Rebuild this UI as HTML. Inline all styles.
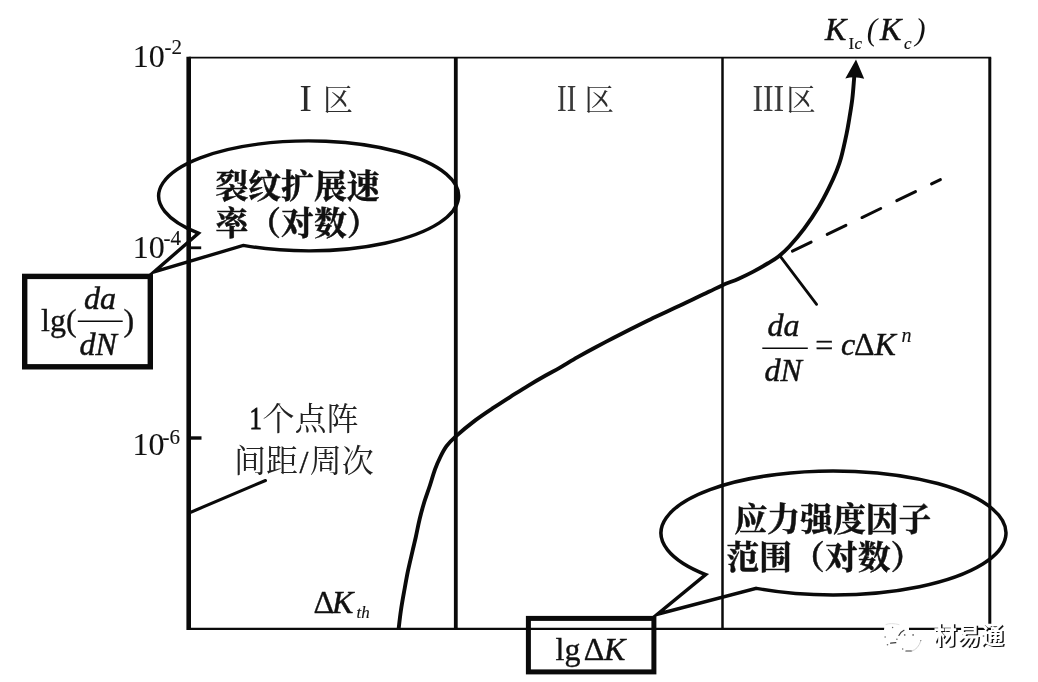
<!DOCTYPE html>
<html lang="zh-CN">
<head>
<meta charset="utf-8">
<title>da/dN - ΔK</title>
<style>
html,body{margin:0;padding:0;background:#fff}
body{width:1038px;height:682px;overflow:hidden;position:relative;font-family:"Liberation Serif",serif}
svg{position:absolute;left:0;top:0;display:block;filter:grayscale(1) blur(.35px)}
text{font-family:"Liberation Serif",serif;fill:#111;stroke:#111;stroke-width:.35px}
.it{font-style:italic}
.tk{stroke-width:.12px}
.it{stroke-width:.5px}
.pn{font-style:italic;stroke-width:0}
.sb{stroke-width:.15px}
.cj{font-family:"Liberation Serif","Noto Serif CJK SC",serif}
.cjb{font-family:"Liberation Serif","Noto Serif CJK SC",serif;font-weight:bold;stroke-width:.5px}
.hei{font-family:"Liberation Sans","Noto Sans CJK SC",sans-serif;font-weight:bold;stroke:none}
</style>
</head>
<body>
<svg width="1038" height="682" viewBox="0 0 1038 682">
<g stroke="#0a0a0a" fill="none" stroke-linecap="butt">
<line x1="188.7" y1="56.8" x2="188.7" y2="629.9" stroke-width="4.6"/>
<line x1="188.7" y1="57.7" x2="991.2" y2="57.7" stroke-width="1.8"/>
<line x1="188.7" y1="628.8" x2="991.0" y2="628.8" stroke-width="2.3"/>
<line x1="989.8" y1="57.7" x2="989.8" y2="623.8" stroke-width="3"/>
<line x1="455.8" y1="57.7" x2="455.8" y2="628.8" stroke-width="3.8"/>
<line x1="722.5" y1="57.7" x2="722.5" y2="628.8" stroke-width="2.5"/>
<line x1="190" y1="247.8" x2="201.2" y2="247.8" stroke-width="2.8"/>
<line x1="190" y1="438" x2="201.5" y2="438" stroke-width="3.4"/>
</g>
<path d="M398.6 629.0 C399.0 626.0 399.9 617.3 400.8 611.2 C401.7 605.1 402.8 598.8 404.0 592.2 C405.2 585.6 406.4 578.6 407.8 571.7 C409.2 564.9 411.2 556.8 412.5 551.1 C413.8 545.4 414.5 542.8 415.7 537.5 C416.9 532.2 418.2 525.0 419.6 519.2 C421.0 513.5 422.3 508.6 424.0 503.0 C425.7 497.4 428.1 491.1 429.9 485.5 C431.7 479.9 433.3 474.0 435.0 469.3 C436.7 464.6 438.2 461.4 440.1 457.5 C442.0 453.6 443.9 449.7 446.5 446.2 C449.1 442.7 451.0 440.7 455.8 436.4 C460.6 432.1 469.0 425.1 475.2 420.4 C481.4 415.7 486.9 412.1 492.8 408.2 C498.7 404.3 504.5 400.5 510.4 396.8 C516.3 393.1 522.1 389.4 528.0 385.8 C533.9 382.2 540.3 378.5 545.6 375.5 C550.9 372.5 554.7 370.7 560.0 367.6 C565.3 364.5 571.7 360.5 577.6 357.1 C583.5 353.7 589.3 350.5 595.2 347.4 C601.1 344.3 606.9 341.3 612.8 338.3 C618.7 335.3 624.5 332.3 630.4 329.3 C636.3 326.3 642.1 323.4 648.0 320.5 C653.9 317.6 660.3 314.7 665.6 312.2 C670.9 309.7 675.1 307.8 680.0 305.5 C684.9 303.2 689.8 300.7 694.7 298.4 C699.6 296.1 704.7 293.8 709.3 291.6 C713.9 289.4 717.6 287.4 722.5 285.2 C727.4 283.0 733.6 281.0 738.7 278.7 C743.8 276.4 748.4 274.2 753.3 271.6 C758.2 269.0 763.8 265.8 768.0 263.3 C772.2 260.8 775.0 259.3 778.5 256.5 C782.0 253.7 785.0 251.1 789.3 246.5 C793.5 241.9 799.1 235.5 804.0 228.9 C808.9 222.3 814.6 213.7 818.7 206.9 C822.9 200.1 826.0 193.8 828.9 187.9 C831.8 182.0 834.2 176.7 836.2 171.7 C838.2 166.7 839.3 164.2 841.0 158.0 C842.7 151.8 845.1 140.9 846.5 134.2 C847.9 127.5 848.4 123.9 849.4 118.0 C850.4 112.1 851.5 105.6 852.3 99.0 C853.1 92.4 853.7 83.3 854.1 78.5 C854.5 73.7 854.7 71.4 854.8 70.0" fill="none" stroke="#0a0a0a" stroke-width="3.9" stroke-linejoin="round"/>
<path d="M856 59.6 L845.3 78.6 Q854.5 75.8 864.2 78.8 Z" fill="#0a0a0a"/>
<line x1="792.4" y1="251.2" x2="940.4" y2="179.6" stroke="#0a0a0a" stroke-width="3" stroke-linecap="round" stroke-dasharray="20.8 17.85"/>
<line x1="780.3" y1="256.3" x2="816.6" y2="304.3" stroke="#0a0a0a" stroke-width="2.8" stroke-linecap="round"/>
<line x1="189" y1="513" x2="265.5" y2="480.5" stroke="#0a0a0a" stroke-width="3" stroke-linecap="round"/>
<path d="M198.4 233.2 A150.0 55.0 0 1 1 243.2 245.4 L154.0 272.0 Z" fill="none" stroke="#0a0a0a" stroke-width="3.4" stroke-linejoin="miter" stroke-miterlimit="8"/>
<path d="M705.7 574.6 A172.5 62.0 0 1 1 756.3 588.4 L657.4 614.2 Z" fill="none" stroke="#0a0a0a" stroke-width="3.5" stroke-linejoin="miter" stroke-miterlimit="8"/>
<rect x="24.7" y="276.4" width="125.6" height="90.4" fill="none" stroke="#0a0a0a" stroke-width="5.4"/>
<rect x="528.4" y="618.4" width="125.5" height="53.5" fill="none" stroke="#0a0a0a" stroke-width="5"/>
<text x="132.8" y="67.0" font-size="32.0" class="tk">10</text>
<text x="164.5" y="53.6" font-size="21.0" class="tk">-2</text>
<text x="132.8" y="258.0" font-size="32.0" class="tk">10</text>
<text x="163.5" y="244.6" font-size="21.0" class="tk">-4</text>
<text x="132.5" y="455.0" font-size="32.0" class="tk">10</text>
<text x="162.5" y="443.6" font-size="21.0" class="tk">-6</text>
<text x="825.0" y="40.0" font-size="32.0" class="it">K</text>
<text x="848.5" y="49.0" font-size="17.0" class="sb">I</text>
<text x="854.5" y="49.0" font-size="17.0" class="it sb">c</text>
<text x="866.8" y="39.5" font-size="31.0" class="pn">(</text>
<text x="880.0" y="40.0" font-size="32.0" class="it">K</text>
<text x="904.0" y="49.0" font-size="17.0" class="it sb">c</text>
<text x="915.2" y="39.5" font-size="31.0" class="pn">)</text>
<text x="313.5" y="613.3" font-size="32.0">Δ</text>
<text x="332.0" y="613.3" font-size="32.0" class="it">K</text>
<text x="356.5" y="617.5" font-size="17.0" class="it sb">th</text>
<text x="767.5" y="335.6" font-size="32.0" class="it">da</text>
<line x1="762.3" y1="348.3" x2="807.8" y2="348.3" stroke="#0a0a0a" stroke-width="1.5"/>
<text x="764.5" y="380.7" font-size="32.0" class="it">dN</text>
<text x="815.3" y="355.9" font-size="32.0">=</text>
<text x="841.0" y="355.3" font-size="32.0" class="it">c</text>
<text x="854.0" y="355.3" font-size="32.0">Δ</text>
<text x="874.5" y="355.3" font-size="32.0" class="it">K</text>
<text x="901.5" y="342.0" font-size="20.0" class="it sb">n</text>
<text x="41.0" y="330.6" font-size="32.0">lg(</text>
<text x="84.0" y="308.6" font-size="32.0" class="it">da</text>
<line x1="77.8" y1="321.3" x2="122.7" y2="321.3" stroke="#0a0a0a" stroke-width="1.5"/>
<text x="79.5" y="355.2" font-size="32.0" class="it">dN</text>
<text x="123.5" y="330.6" font-size="32.0">)</text>
<text x="555.5" y="659.6" font-size="32.0">lg</text>
<text x="583.7" y="659.6" font-size="32.0">Δ</text>
<text x="604.0" y="659.6" font-size="32.0" class="it">K</text>
<text x="299.5" y="110.6" font-size="37.0" style="fill:#2a2a2a;stroke:none">I</text>
<text transform="translate(557.1 110.6) scale(.78 1)" font-size="37" style="fill:#3a3a3a;stroke:none">II</text>
<text transform="translate(752.4 110.6) scale(.86 1)" font-size="37" style="fill:#3a3a3a;stroke:none">III</text>
<text transform="translate(249.6 429.4) scale(.78 1)" font-size="31.5" style="stroke-width:.9px">1</text>
<text x="299.5" y="472.5" font-size="32.0">/</text>
<text x="323" y="110" font-size="30" class="cj" style="fill:#2e2e2e;stroke:none">区</text>
<text x="584.5" y="110" font-size="29.5" class="cj" style="fill:#2e2e2e;stroke:none">区</text>
<text x="786.3" y="110" font-size="29.5" class="cj" style="fill:#2e2e2e;stroke:none">区</text>
<text x="215.5" y="198" font-size="32.8" class="cjb">裂纹扩展速</text>
<text x="215.5" y="234.5" font-size="32.8" class="cjb">率（对数）</text>
<text x="734.5" y="530.5" font-size="32.8" class="cjb">应力强度因子</text>
<text x="726.5" y="569" font-size="32.8" class="cjb">范围（对数）</text>
<text x="262.5" y="430" font-size="32" class="cj" style="fill:#222;stroke:none">个点阵</text>
<text x="234" y="472" font-size="32" class="cj" style="fill:#222;stroke:none">间距</text>
<text x="309.8" y="472" font-size="32" class="cj" style="fill:#222;stroke:none">周次</text>
<g role="img" aria-label="logo"><title>logo</title>
<rect x="884.2" y="626.6" width="24.8" height="4.6" fill="#fff"/>
<ellipse cx="894.5" cy="632.8" rx="11" ry="9.4" fill="#fff"/>
<ellipse cx="909" cy="641" rx="11.6" ry="10.4" fill="#fff"/>
<g fill="none" stroke="#3a3a3a" stroke-width="1.2" stroke-linecap="round">
<path d="M898.9 635.4Q900.6 631.9 904 630.3"/>
<path d="M890.6 643.1L895.8 642.7"/>
<path d="M905.9 651L911.6 651"/>
<path d="M911.8 651Q918 649.5 920.8 641" stroke="#d2d2d2" stroke-width="1"/>
<path d="M886 624.5Q891 622.5 899 624.6" stroke="#e2e2e2" stroke-width="1"/>
</g>
<g fill="#666">
<circle cx="904.7" cy="634.9" r="0.85"/>
<circle cx="913.1" cy="634.9" r="0.85"/>
<circle cx="885.1" cy="636.9" r="0.75"/>
<circle cx="887.5" cy="644.7" r="0.80"/>
<circle cx="892.6" cy="627.5" r="0.70"/>
<circle cx="896.9" cy="639.3" r="0.80"/>
<circle cx="902.7" cy="649.0" r="0.75"/>
<circle cx="920.8" cy="640.6" r="0.60"/>
</g></g>
<text x="935.1" y="645.3" font-size="23.5" class="hei" style="fill:#141414">材易通</text>
<text x="933.5" y="643.7" font-size="23.5" class="hei" style="fill:#fff">材易通</text>
</svg>
</body>
</html>
